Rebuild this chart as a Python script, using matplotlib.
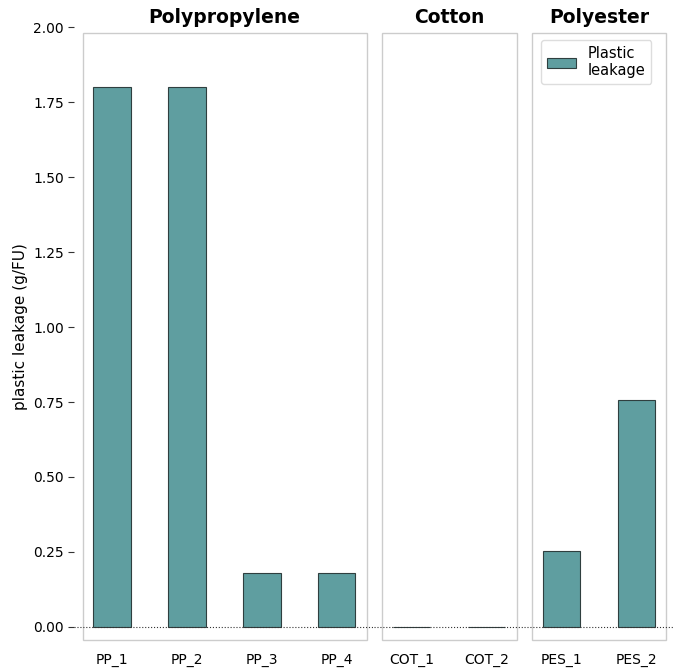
import numpy as np
import matplotlib
matplotlib.use('Agg')
import matplotlib.pyplot as plt
from matplotlib.patches import Rectangle

# data
groups = ['Polypropylene', 'Cotton', 'Polyester']
labels = [['PP_1', 'PP_2', 'PP_3', 'PP_4'],
          ['COT_1', 'COT_2'],
          ['PES_1', 'PES_2']]
pp_vals = [1.80, 1.80, 0.18, 0.18]
cot_vals = [0.0, 0.0]
pes_vals = [0.253, 0.757]
values = [pp_vals, cot_vals, pes_vals]

bar_color = '#5f9ea0'
edge_color = '#2f3f3f'
box_color = '#cccccc'

fig = plt.figure(figsize=(6.79, 6.72), dpi=100)
gs = fig.add_gridspec(1, 3, width_ratios=[4, 2, 2], wspace=0,
                      left=0.1097, right=0.9926, bottom=0.0372, top=0.9598)

ymin, ymax = -0.0667, 2.0
axes = []
for i in range(3):
    ax = fig.add_subplot(gs[0, i])
    axes.append(ax)
    n = len(labels[i])
    x = np.arange(n)
    ax.bar(x, values[i], width=0.5, color=bar_color, edgecolor=edge_color,
           linewidth=0.8, label='Plastic\nleakage', zorder=3)
    ax.set_xlim(-0.5, n - 0.5)
    ax.set_ylim(ymin, ymax)
    ax.set_xticks(x)
    ax.set_xticklabels(labels[i], fontsize=10)
    ax.tick_params(axis='x', length=0, pad=4)
    for s in ax.spines.values():
        s.set_visible(False)
    # inset grey frame
    ax.add_patch(Rectangle((-0.39, -0.043), n - 1 + 0.79, 1.98 + 0.043,
                           fill=False, edgecolor=box_color, linewidth=1.0,
                           clip_on=False, zorder=1))
    ax.axhline(0, color='#333333', linestyle=':', linewidth=0.8, zorder=4)
    ax.set_title(groups[i], fontsize=13.5, fontweight='bold', pad=2)
    if i == 0:
        ax.set_yticks([0, 0.25, 0.5, 0.75, 1.0, 1.25, 1.5, 1.75, 2.0])
        ax.set_yticklabels(['%.2f' % v for v in ax.get_yticks()], fontsize=10)
        ax.tick_params(axis='y', length=4, width=0.8, color='#333333')
        ax.set_ylabel('plastic leakage (g/FU)', fontsize=11)
        ax.yaxis.label.set_y((1.0 - ymin) / (ymax - ymin))
    else:
        ax.set_yticks([])

axes[2].legend(loc='upper right', fontsize=10.5, bbox_to_anchor=(0.85, 0.979),
               borderaxespad=0, framealpha=1, edgecolor='#dddddd')

fig.savefig('out.png', dpi=100)
